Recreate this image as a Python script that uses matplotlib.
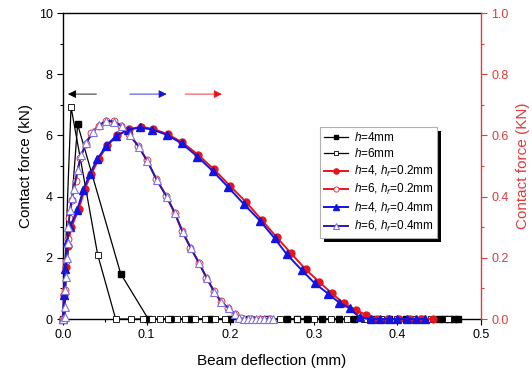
import matplotlib
matplotlib.use("Agg")
import matplotlib.pyplot as plt
from matplotlib.patches import Rectangle
from matplotlib.transforms import IdentityTransform

plt.rcParams['font.family'] = ['Liberation Sans', 'DejaVu Sans']
plt.rcParams['mathtext.fontset'] = 'custom'
plt.rcParams['mathtext.rm'] = 'Liberation Sans'
plt.rcParams['mathtext.it'] = 'Liberation Sans:italic'

# ---- data (left axis: kN) ----
h4_x = [0.0, 0.0175, 0.069, 0.102, 0.128, 0.152, 0.176, 0.20, 0.222, 0.245, 0.268, 0.28, 0.292,
        0.31, 0.33, 0.348, 0.37, 0.39, 0.41, 0.43, 0.45, 0.456, 0.462, 0.468, 0.473]
h4_y = [0.0, 6.36, 1.48, 0.0, 0.0, 0.0, 0.0, 0.0, 0.0, 0.0, 0.0, 0.0, 0.0,
        0.0, 0.0, 0.0, 0.0, 0.0, 0.0, 0.0, 0.0, 0.0, 0.0, 0.0, 0.0]

h6_x = [0.0, 0.0096, 0.0415, 0.063, 0.081, 0.096, 0.106, 0.116, 0.126, 0.136, 0.146, 0.158,
        0.17, 0.182, 0.194, 0.21, 0.225, 0.24, 0.26, 0.28, 0.30, 0.32, 0.34, 0.36, 0.38,
        0.40, 0.42, 0.44, 0.46]
h6_y = [0.0, 6.93, 2.1, 0.0, 0.0, 0.0, 0.0, 0.0, 0.0, 0.0, 0.0, 0.0,
        0.0, 0.0, 0.0, 0.0, 0.0, 0.0, 0.0, 0.0, 0.0, 0.0, 0.0, 0.0, 0.0,
        0.0, 0.0, 0.0, 0.0]

# ---- data (right axis: KN) ----
h4f02_x = [0.0, 0.0015, 0.003, 0.0055, 0.010, 0.019, 0.026, 0.034, 0.043, 0.053, 0.065, 0.079,
           0.093, 0.108, 0.125, 0.1427, 0.162, 0.1806, 0.1998, 0.219, 0.2376, 0.2556, 0.2727,
           0.2903, 0.3062, 0.3214, 0.336, 0.3505, 0.363, 0.376, 0.389, 0.402, 0.415, 0.428, 0.442]
h4f02_y = [0.0, 0.080, 0.170, 0.240, 0.300, 0.360, 0.425, 0.475, 0.524, 0.567, 0.600, 0.620,
           0.628, 0.621, 0.604, 0.577, 0.536, 0.489, 0.435, 0.382, 0.324, 0.267, 0.215,
           0.162, 0.122, 0.084, 0.051, 0.029, 0.013, 0.0, 0.0, 0.0, 0.0, 0.0, 0.0]

h6f02_x = [0.0, 0.0025, 0.004, 0.0055, 0.0075, 0.0105, 0.015, 0.0205, 0.027, 0.034, 0.0425,
           0.0515, 0.0605, 0.0695, 0.0795, 0.090, 0.1005, 0.1115, 0.1235, 0.1335, 0.1425,
           0.1525, 0.1625, 0.1715, 0.1805, 0.1885, 0.1975, 0.2055, 0.213, 0.224, 0.236, 0.248]
h6f02_y = [0.0, 0.095, 0.190, 0.260, 0.330, 0.390, 0.450, 0.525, 0.572, 0.608, 0.632,
           0.647, 0.646, 0.632, 0.603, 0.565, 0.518, 0.458, 0.402, 0.347, 0.287,
           0.233, 0.184, 0.135, 0.091, 0.059, 0.036, 0.017, 0.004, 0.0, 0.0, 0.0]

h4f04_x = [0.0, 0.001, 0.0024, 0.0044, 0.0084, 0.017, 0.0243, 0.032, 0.041, 0.0514, 0.0634,
           0.0774, 0.092, 0.107, 0.124, 0.142, 0.1607, 0.179, 0.1975, 0.2165, 0.2356, 0.253,
           0.2675, 0.2855, 0.301, 0.3175, 0.3306, 0.343, 0.355, 0.369, 0.379, 0.39, 0.40,
           0.411, 0.422, 0.433]
h4f04_y = [0.0, 0.080, 0.165, 0.253, 0.300, 0.356, 0.422, 0.473, 0.522, 0.565, 0.598,
           0.618, 0.626, 0.619, 0.602, 0.574, 0.531, 0.484, 0.431, 0.375, 0.321, 0.264,
           0.212, 0.160, 0.117, 0.082, 0.053, 0.035, 0.005, 0.0, 0.0, 0.0, 0.0,
           0.0, 0.0, 0.0]

h6f04_x = [0.0, 0.0024, 0.0024, 0.0024, 0.0036, 0.0048, 0.0056, 0.0064, 0.0084, 0.0104, 0.013,
           0.0175, 0.022, 0.028, 0.0355, 0.0435, 0.052, 0.061, 0.070, 0.080, 0.0905, 0.101,
           0.112, 0.124, 0.134, 0.143, 0.153, 0.163, 0.172, 0.181, 0.189, 0.198, 0.206, 0.211,
           0.216, 0.221, 0.226, 0.231, 0.236, 0.241, 0.246, 0.251]
h6f04_y = [0.0, 0.008, 0.040, 0.095, 0.138, 0.199, 0.247, 0.302, 0.356, 0.394, 0.425,
           0.487, 0.536, 0.576, 0.610, 0.633, 0.648, 0.645, 0.630, 0.601, 0.563, 0.516,
           0.455, 0.400, 0.345, 0.285, 0.231, 0.182, 0.133, 0.089, 0.057, 0.035, 0.016, 0.004,
           0.0, 0.0, 0.0, 0.0, 0.0, 0.0, 0.0, 0.0]

legend_labels = [r'$h$=4mm', r'$h$=6mm', r'$h$=4, $h_f$=0.2mm', r'$h$=6, $h_f$=0.2mm',
                 r'$h$=4, $h_f$=0.4mm', r'$h$=6, $h_f$=0.4mm']

RED = '#e8141c'
BLUE = '#1414e0'
LAV = '#7f72e6'
AXRED = '#e03a3a'

fig = plt.figure(figsize=(5.32, 3.73), dpi=100)
ax = fig.add_axes([63/532, 1 - 319/373, (481-63)/532, (319-13)/373])
ax2 = ax.twinx()

l1, = ax.plot(h4_x, h4_y, color='black', lw=0.9, marker='s', ms=4.5, mfc='black', mec='black',
              clip_on=False, zorder=3)
l2, = ax.plot(h6_x, h6_y, color='black', lw=0.9, marker='s', ms=4.5, mfc='white', mec='black',
              mew=0.6, clip_on=False, zorder=3)

l3, = ax2.plot(h4f02_x, h4f02_y, color=RED, lw=1.4, marker='o', ms=5, mfc=RED, mec=RED,
               clip_on=False, zorder=2)
l4, = ax2.plot(h6f02_x, h6f02_y, color=RED, lw=1.4, marker='o', ms=5, mfc='white', mec=RED,
               mew=0.6, clip_on=False, zorder=2)
l5, = ax2.plot(h4f04_x, h4f04_y, color=BLUE, lw=1.4, marker='^', ms=6, mfc=BLUE, mec=BLUE,
               clip_on=False, zorder=3)
l6, = ax2.plot(h6f04_x, h6f04_y, color='#2a1aa8', lw=1.4, marker='^', ms=6, mfc='white', mec=LAV,
               mew=0.8, clip_on=False, zorder=3)

ax.set_xlim(0, 0.5)
ax.set_ylim(0, 10)
ax2.set_ylim(0, 1.0)
ax.set_xticks([0.0, 0.1, 0.2, 0.3, 0.4, 0.5])
ax.set_xticks([0.05, 0.15, 0.25, 0.35, 0.45], minor=True)
ax.set_xticklabels(['0.0', '0.1', '0.2', '0.3', '0.4', '0.5'])
ax.set_yticks([0, 2, 4, 6, 8, 10])
ax.set_yticks([1, 3, 5, 7, 9], minor=True)
ax2.set_yticks([0.0, 0.2, 0.4, 0.6, 0.8, 1.0])
ax2.set_yticks([0.1, 0.3, 0.5, 0.7, 0.9], minor=True)
ax2.set_yticklabels(['0.0', '0.2', '0.4', '0.6', '0.8', '1.0'])

ax.tick_params(axis='both', which='major', direction='out', length=4, width=0.8, labelsize=9,
               colors='black', top=False)
ax.tick_params(axis='both', which='minor', direction='out', length=2, width=0.8)
ax2.tick_params(axis='y', which='major', direction='out', length=4, width=0.8, labelsize=9,
                colors=AXRED)
ax2.tick_params(axis='y', which='minor', direction='out', length=2, width=0.8, colors=AXRED)
for s in ['left', 'bottom', 'top']:
    ax2.spines[s].set_visible(False)
ax2.spines['right'].set_color(AXRED)
ax2.spines['right'].set_linewidth(1.0)
ax.spines['right'].set_visible(False)
for s in ['left', 'bottom', 'top']:
    ax.spines[s].set_linewidth(1.0)

ax.set_xlabel('Beam deflection (mm)', fontsize=11, labelpad=9)
ax.set_ylabel('Contact force (kN)', fontsize=11, labelpad=4)
ax2.set_ylabel('Contact force (KN)', fontsize=11, color=AXRED, labelpad=5)

# direction arrows
ax.annotate('', xy=(0.006, 7.35), xytext=(0.040, 7.35),
            arrowprops=dict(arrowstyle='-|>', color='black', lw=0.6, mutation_scale=12,
                            shrinkA=0, shrinkB=0))
ax.annotate('', xy=(0.124, 7.35), xytext=(0.080, 7.35),
            arrowprops=dict(arrowstyle='-|>', color=BLUE, lw=0.6, mutation_scale=12,
                            shrinkA=0, shrinkB=0))
ax.annotate('', xy=(0.190, 7.35), xytext=(0.146, 7.35),
            arrowprops=dict(arrowstyle='-|>', color=RED, lw=0.6, mutation_scale=12,
                            shrinkA=0, shrinkB=0))

leg = ax2.legend([l1, l2, l3, l4, l5, l6], legend_labels, loc='upper left',
                 bbox_to_anchor=((320-63)/418, (319-127)/306), borderaxespad=0,
                 fontsize=8.5, frameon=True, fancybox=False, framealpha=1,
                 edgecolor='#b0b0b0', handlelength=2.0, handletextpad=0.5,
                 labelspacing=0.28, borderpad=0.35, markerscale=0.75)
leg.get_frame().set_linewidth(0.8)
leg.set_zorder(10)

fig.canvas.draw()
bb = leg.get_window_extent()
shadow = Rectangle((bb.x0 + 4, bb.y0 - 4), bb.width, bb.height, transform=IdentityTransform(),
                   facecolor='black', edgecolor='none', zorder=9)
ax2.add_artist(shadow)

fig.savefig('out.png', dpi=100, facecolor='white')
